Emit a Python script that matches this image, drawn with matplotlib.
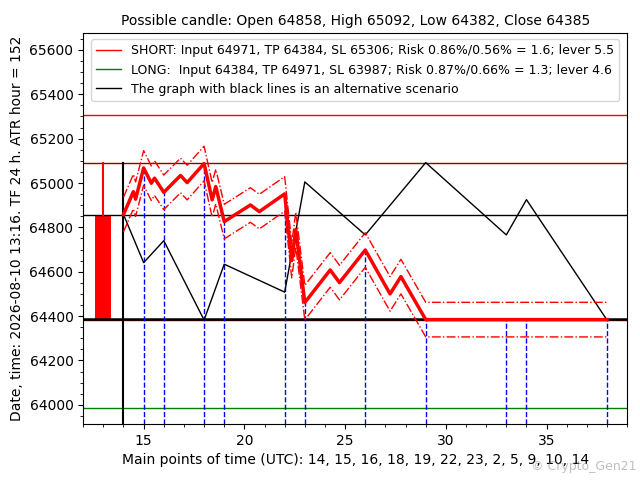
import matplotlib
matplotlib.use("Agg")
import matplotlib.pyplot as plt
import numpy as np

# Candle
candle_open, candle_high, candle_low, candle_close = 64858, 65092, 64382, 64385
candle_x = 13

# Levels
short_sl = 65306
short_tp = 64384
long_sl = 63987

# Main (red) scenario
main_t = [14, 14.49, 14.6, 15, 15.38, 15.54, 16, 16.83, 17.16, 18, 18.4, 18.58, 19,
          20.3, 20.74, 22, 22.35, 22.55, 23, 24.26, 24.72, 26, 27.23, 27.77, 29, 38]
main_v = [64858, 64961, 64927, 65068, 64999, 65022, 64958, 65034, 65002, 65088, 64924, 64984, 64826,
          64901, 64871, 64951, 64650, 64790, 64461, 64608, 64551, 64698, 64500, 64578, 64384, 64384]
band_offset = 78

# Alternative (black) scenario
alt_t = [14, 15, 16, 18, 19, 22, 23, 26, 29, 33, 34, 38]
alt_v = [64858, 64641, 64740, 64382, 64634, 64508, 65005, 64766, 65092, 64766, 64925, 64382]

# Main points of time
key_t = [15, 16, 18, 19, 22, 23, 26, 29, 33, 34, 38]

title = "Possible candle: Open 64858, High 65092, Low 64382, Close 64385"
ylabel = "Date, time: 2026-08-10 13:16. TF 24 h. ATR hour = 152"
xlabel = "Main points of time (UTC): 14, 15, 16, 18, 19, 22, 23, 2, 5, 9, 10, 14"
leg_short = "SHORT: Input 64971, TP 64384, SL 65306; Risk 0.86%/0.56% = 1.6; lever 5.5"
leg_long = "LONG:  Input 64384, TP 64971, SL 63987; Risk 0.87%/0.66% = 1.3; lever 4.6"
leg_alt = "The graph with black lines is an alternative scenario"

fig = plt.figure(figsize=(6.4, 4.8), dpi=100)
ax = fig.add_axes([0.13, 0.117, 0.85, 0.814])
ylim = (63914, 65676)
ax.set_xlim(12, 39)
ax.set_ylim(*ylim)

# horizontal levels
ax.axhline(short_sl, color='red', lw=1, label=leg_short)
ax.axhline(long_sl, color='green', lw=1, label=leg_long)
ax.axhline(candle_high, color='darkred', lw=1)
ax.axhline(candle_open, color='black', lw=1, label=leg_alt)
ax.axhline(candle_low, color='darkred', lw=1)
ax.axhline(candle_close, color='black', lw=1.8)

# candle
ax.bar([candle_x], [candle_open - candle_close], bottom=candle_close, width=0.8, color='red')
ax.plot([candle_x, candle_x], [candle_open, candle_high], color='red', lw=1.5)

# vertical line at start
ax.plot([14, 14], [ylim[0], candle_high], color='black', lw=1.5)

# blue dashed verticals to main line
key_v = np.interp(key_t, main_t, main_v)
for t, v in zip(key_t, key_v):
    ax.plot([t, t], [ylim[0], v], color='blue', ls='--', lw=1)

# alternative scenario
ax.plot(alt_t, alt_v, color='black', lw=1)

# main scenario with bands
mv = np.array(main_v)
ax.plot(main_t, mv + band_offset, color='red', ls='-.', lw=1)
ax.plot(main_t, mv - band_offset, color='red', ls='-.', lw=1)
ax.plot(main_t, mv, color='red', lw=2.5)

ax.minorticks_on()
ax.set_title(title, fontsize=10)
ax.set_ylabel(ylabel)
ax.set_xlabel(xlabel)
ax.legend(loc='upper center', fontsize=9)

fig.text(0.995, 0.015, "© Crypto_Gen21", ha='right', va='bottom', color='gray', alpha=0.5, fontsize=9)

fig.savefig("out.png", dpi=100)
